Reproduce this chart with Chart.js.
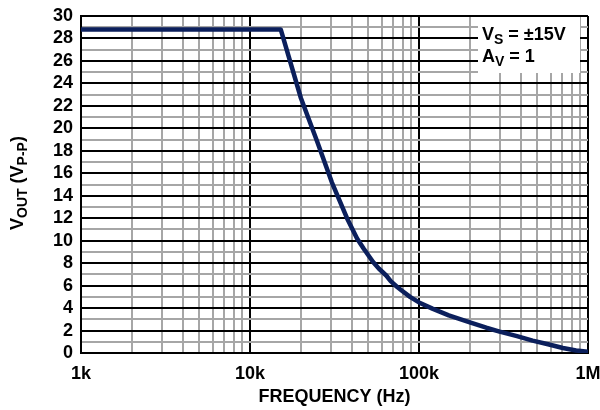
<!DOCTYPE html>
<html>
<head>
<meta charset="utf-8">
<script src="https://cdn.jsdelivr.net/npm/chart.js@4.4.0/dist/chart.umd.min.js"></script>
<style>
  html, body { margin: 0; padding: 0; background: #fff; }
  #wrap { width: 600px; height: 410px; }
</style>
</head>
<body>
<div id="wrap"><canvas id="myChart" width="600" height="410"></canvas></div>
<script>
// values
var freq = [1000, 15200, 20000, 25000, 30500, 37500, 43000, 47000, 53500, 58000, 64000, 68000, 74000, 80000, 88500, 100000, 120000, 150000, 200000, 250000, 300000, 380000, 470000, 580000, 710000, 850000, 1000000];
var vout = [28.8, 28.8, 22.7, 18.8, 15.2, 12.0, 10.2, 9.3, 8.1, 7.5, 6.9, 6.4, 5.9, 5.5, 5.0, 4.5, 3.95, 3.35, 2.73, 2.25, 1.9, 1.5, 1.1, 0.78, 0.45, 0.22, 0.12];
var xDecades = [1000, 10000, 100000, 1000000];
var xDecadeLabels = ['1k', '10k', '100k', '1M'];

var FONT = "'Liberation Sans', Arial, sans-serif";
var gridBlack = '#000000';
var gridGray = '#a6a6a6';
var lineColor = '#0b1f5c';

var points = freq.map(function (f, i) { return { x: f, y: vout[i] }; });

// minor ticks 2..9 in each decade
var xTickValues = [];
for (var d = 0; d < xDecades.length; d++) {
    for (var m = 1; m <= 9; m++) {
        var v = xDecades[d] * m;
        if (v <= 1000000) xTickValues.push(v);
        if (xDecades[d] === 1000000) break;
    }
}

// draw text made of runs, some of them subscripts
function drawRuns(ctx, runs, x, y, size, subSize, subDrop, align) {
    var total = 0;
    runs.forEach(function (r) {
        ctx.font = 'bold ' + (r.sub ? subSize : size) + 'px ' + FONT;
        r.w = ctx.measureText(r.t).width;
        total += r.w;
    });
    var cx = align === 'center' ? x - total / 2 : x;
    runs.forEach(function (r) {
        ctx.font = 'bold ' + (r.sub ? subSize : size) + 'px ' + FONT;
        ctx.fillText(r.t, cx, r.sub ? y + subDrop : y);
        cx += r.w;
    });
}

var labelsPlugin = {
    id: 'labels',
    afterDraw: function (chart) {
        var ctx = chart.ctx;
        var area = chart.chartArea;
        ctx.save();
        ctx.fillStyle = '#000';
        ctx.textBaseline = 'alphabetic';
        ctx.textAlign = 'left';

        // x title
        drawRuns(ctx, [{ t: 'FREQUENCY (Hz)' }], (area.left + area.right) / 2, 402, 18, 13, 4, 'center');

        // y title, rotated
        ctx.save();
        ctx.translate(23, 183);
        ctx.rotate(-Math.PI / 2);
        drawRuns(ctx, [{ t: 'V' }, { t: 'OUT', sub: true }, { t: ' (V' }, { t: 'P-P', sub: true }, { t: ')' }], 0, 0, 18, 14, 4, 'center');
        ctx.restore();

        // condition box
        ctx.fillStyle = '#fff';
        ctx.fillRect(478, area.top + 1, 102, 56);
        ctx.fillStyle = '#000';
        drawRuns(ctx, [{ t: 'V' }, { t: 'S', sub: true }, { t: ' = \u00b115V' }], 482, 40, 18, 14, 4, 'left');
        drawRuns(ctx, [{ t: 'A' }, { t: 'V', sub: true }, { t: ' = 1' }], 482, 62, 18, 14, 4, 'left');
        ctx.restore();
    }
};

var ctx = document.getElementById('myChart').getContext('2d');
var myChart = new Chart(ctx, {
    type: 'line',
    data: {
        datasets: [{
            data: points,
            borderColor: lineColor,
            borderWidth: 4.5,
            pointRadius: 0,
            tension: 0,
            borderJoinStyle: 'round',
            fill: false
        }]
    },
    plugins: [labelsPlugin],
    options: {
        responsive: false,
        animation: false,
        layout: { padding: { left: 0, top: 16, right: 12, bottom: 0 } },
        plugins: { legend: { display: false }, tooltip: { enabled: false } },
        scales: {
            x: {
                type: 'logarithmic',
                min: 1000,
                max: 1000000,
                afterBuildTicks: function (scale) {
                    scale.ticks = xTickValues.map(function (v) { return { value: v }; });
                },
                afterFit: function (scale) {
                    scale.height = 57;
                    scale.paddingLeft = 0;
                    scale.paddingRight = 0;
                },
                ticks: {
                    autoSkip: false,
                    maxRotation: 0,
                    padding: 10,
                    color: '#000',
                    font: { family: FONT, size: 18, weight: 'bold' },
                    callback: function (value) {
                        var i = xDecades.indexOf(value);
                        return i >= 0 ? xDecadeLabels[i] : '';
                    }
                },
                grid: {
                    drawTicks: false,
                    lineWidth: 2,
                    color: function (c) {
                        return (c.tick && xDecades.indexOf(c.tick.value) >= 0) ? gridBlack : gridGray;
                    }
                },
                border: { display: true, color: '#000', width: 2 }
            },
            y: {
                type: 'linear',
                min: 0,
                max: 30,
                afterFit: function (scale) {
                    scale.width = 81;
                    scale.paddingTop = 0;
                    scale.paddingBottom = 0;
                },
                ticks: {
                    stepSize: 1,
                    autoSkip: false,
                    padding: 8,
                    color: '#000',
                    font: { family: FONT, size: 18, weight: 'bold' },
                    callback: function (value) { return value % 2 === 0 ? String(value) : ''; }
                },
                grid: {
                    drawTicks: false,
                    lineWidth: 2,
                    color: function (c) {
                        return (c.tick && c.tick.value % 2 === 0) ? gridBlack : gridGray;
                    }
                },
                border: { display: true, color: '#000', width: 2 }
            }
        }
    }
});
</script>
</body>
</html>
